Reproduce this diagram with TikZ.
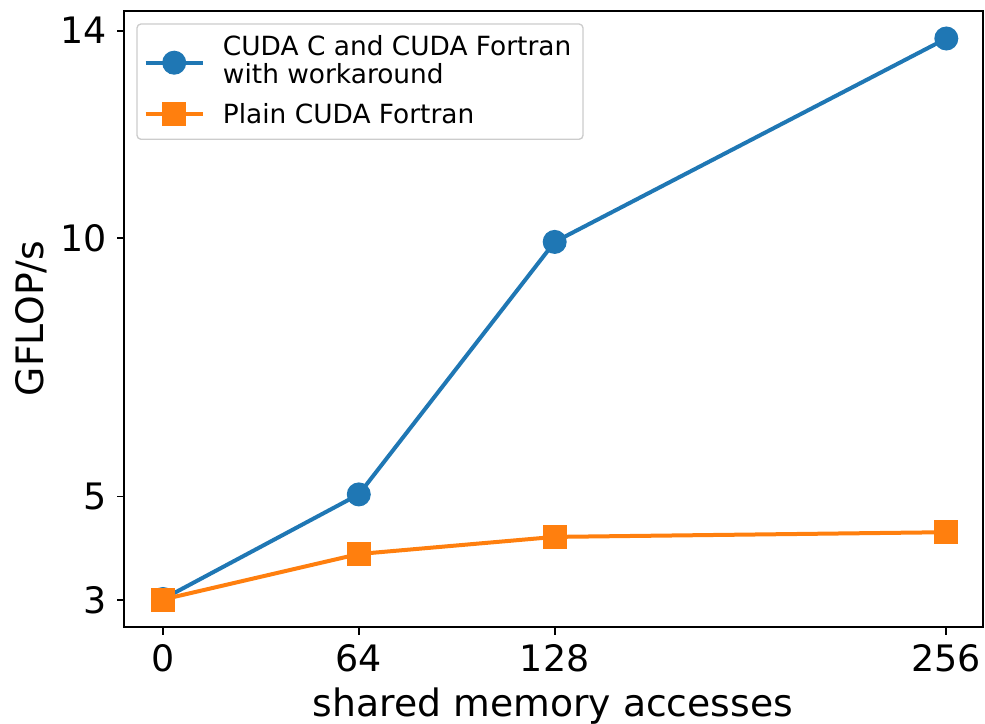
\documentclass[tikz,border=0pt]{standalone}
\usepackage{fontspec}
\setmainfont{DejaVu Sans}
\definecolor{mplblue}{HTML}{1F77B4}
\definecolor{mplorange}{HTML}{FF7F0E}
\begin{document}
\begin{tikzpicture}[x=0.75pt,y=-0.75pt,
  ticklabel/.style={font=\fontsize{27.3}{32}\selectfont, inner sep=0pt},
  axislabel/.style={font=\fontsize{28.3}{34}\selectfont, inner sep=0pt},
  leglabel/.style={font=\fontsize{19.8}{24}\selectfont, inner sep=0pt, anchor=base west},
  spine/.style={line width=1.3pt, black},
  tickmark/.style={line width=1.3pt, black},
  blueline/.style={mplblue, line width=3pt},
  orangeline/.style={mplorange, line width=3pt},
  bluedot/.style={circle, fill=mplblue, draw=mplblue, line width=1pt, inner sep=0pt, minimum size=17pt},
  orangesq/.style={rectangle, fill=mplorange, draw=mplorange, line width=1pt, inner sep=0pt, minimum size=17pt},
]
\useasboundingbox (0,0) rectangle (985,724);

% axes frame
\coordinate (ll) at (124,626.7);
\coordinate (ur) at (983.3,10.7);
\draw[spine] (ll) rectangle (ur);

% x ticks and labels
\foreach \xv/\lab in {163/0, 358.8/64, 554.7/128, 946.3/256} {
  \draw[tickmark] (\xv,626.7) -- (\xv,634.5);
  \node[ticklabel, anchor=base] (xt\lab) at (\xv,671.5) {\lab};
}
% y ticks and labels
\foreach \yv/\lab in {600/3, 496.5/5, 237.7/10, 30.7/14} {
  \draw[tickmark] (124,\yv) -- (116.5,\yv);
  \node[ticklabel, anchor=base east] (yt\lab) at (107,\yv+13.3) {\lab};
}

% axis titles
\node[axislabel, anchor=base] (xlab) at (553,716.7) {shared memory accesses};
\node[axislabel, anchor=base, rotate=90] (ylab) at (43,318.5) {GFLOP/s};

% data points
\coordinate (b0) at (163,599);
\coordinate (b1) at (358.8,494.4);
\coordinate (b2) at (554.7,241.9);
\coordinate (b3) at (946.3,38.5);
\coordinate (o0) at (163,599.5);
\coordinate (o1) at (358.8,554);
\coordinate (o2) at (554.7,536.9);
\coordinate (o3) at (946.3,532.2);

% CUDA C / workaround series
\draw[blueline, line join=round] (b0) -- (b1) -- (b2) -- (b3);
\foreach \p in {b0,b1,b2,b3} \node[bluedot] (m\p) at (\p) {};

% plain CUDA Fortran series
\draw[orangeline, line join=round] (o0) -- (o1) -- (o2) -- (o3);
\foreach \p in {o0,o1,o2,o3} \node[orangesq] (m\p) at (\p) {};

% legend
\draw[black!20, line width=1pt, rounded corners=3pt, fill=white, fill opacity=0.8] (137,24) rectangle (583,139.3);
\coordinate (lb1) at (145.7,62.7);
\coordinate (lb2) at (202.7,62.7);
\coordinate (lo1) at (145.7,114);
\coordinate (lo2) at (202.7,114);
\draw[blueline] (lb1) -- (lb2);
\node[bluedot] (legb) at (174.2,62.7) {};
\draw[orangeline] (lo1) -- (lo2);
\node[orangesq] (lego) at (174.2,114) {};
\node[leglabel] (lt1) at (222.7,55.2) {CUDA C and CUDA Fortran};
\node[leglabel] (lt2) at (222.7,83.3) {with workaround};
\node[leglabel] (lt3) at (222.7,123.3) {Plain CUDA Fortran};
\end{tikzpicture}
\end{document}
